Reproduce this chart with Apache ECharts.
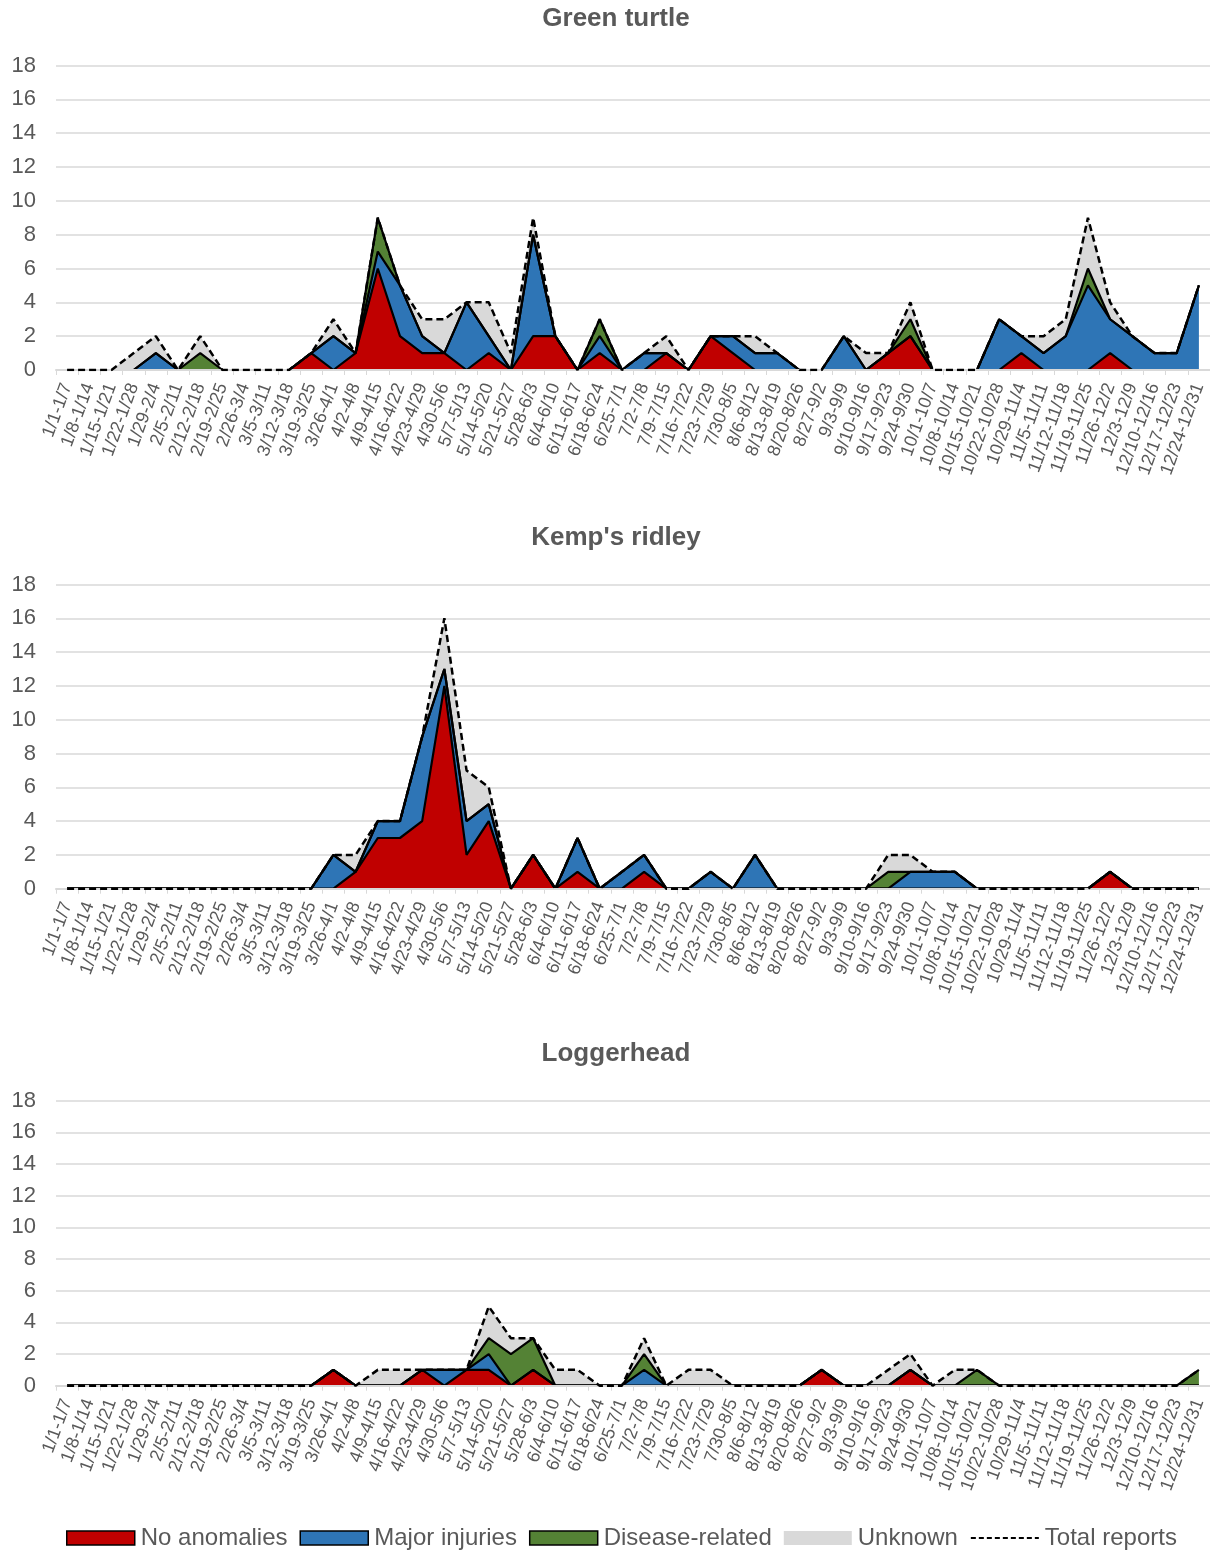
<!DOCTYPE html>
<html><head><meta charset="utf-8">
<script src="https://cdn.jsdelivr.net/npm/echarts@6/dist/echarts.min.js"></script>
<style>html,body{margin:0;padding:0;background:#fff}#c{width:1210px;height:1550px}</style>
</head><body><div id="c"></div>
<script>
const weeks = ['1/1-1/7','1/8-1/14','1/15-1/21','1/22-1/28','1/29-2/4','2/5-2/11','2/12-2/18','2/19-2/25','2/26-3/4','3/5-3/11','3/12-3/18','3/19-3/25','3/26-4/1','4/2-4/8','4/9-4/15','4/16-4/22','4/23-4/29','4/30-5/6','5/7-5/13','5/14-5/20','5/21-5/27','5/28-6/3','6/4-6/10','6/11-6/17','6/18-6/24','6/25-7/1','7/2-7/8','7/9-7/15','7/16-7/22','7/23-7/29','7/30-8/5','8/6-8/12','8/13-8/19','8/20-8/26','8/27-9/2','9/3-9/9','9/10-9/16','9/17-9/23','9/24-9/30','10/1-10/7','10/8-10/14','10/15-10/21','10/22-10/28','10/29-11/4','11/5-11/11','11/12-11/18','11/19-11/25','11/26-12/2','12/3-12/9','12/10-12/16','12/17-12/23','12/24-12/31'];
const seriesNames = ['No anomalies','Major injuries','Disease-related','Unknown','Total reports'];
const speciesTitles = ['Green turtle',"Kemp's ridley",'Loggerhead'];

// Green turtle
const greenNoAnomalies = [0,0,0,0,0,0,0,0,0,0,0,1,0,1,6,2,1,1,0,1,0,2,2,0,1,0,0,1,0,2,1,0,0,0,0,0,0,1,2,0,0,0,0,1,0,0,0,1,0,0,0,0];
const greenMajor       = [0,0,0,0,1,0,0,0,0,0,0,0,2,0,1,3,1,0,4,1,0,6,0,0,1,0,1,0,0,0,1,1,1,0,0,2,0,0,0,0,0,0,3,1,1,2,5,2,2,1,1,5];
const greenDisease     = [0,0,0,0,0,0,1,0,0,0,0,0,0,0,2,0,0,0,0,0,0,0,0,0,1,0,0,0,0,0,0,0,0,0,0,0,0,0,1,0,0,0,0,0,0,0,1,0,0,0,0,0];
const greenUnknown     = [0,0,0,1,1,0,1,0,0,0,0,0,1,0,0,0,1,2,0,2,1,1,0,0,0,0,0,1,0,0,0,1,0,0,0,0,1,0,1,0,0,0,0,0,1,1,3,1,0,0,0,0];
const greenTotal       = [0,0,0,1,2,0,2,0,0,0,0,1,3,1,9,5,3,3,4,4,1,9,2,0,3,0,1,2,0,2,2,2,1,0,0,2,1,1,4,0,0,0,3,2,2,3,9,4,2,1,1,5];

// Kemp's ridley
const kempNoAnomalies = [0,0,0,0,0,0,0,0,0,0,0,0,0,1,3,3,4,12,2,4,0,2,0,1,0,0,1,0,0,0,0,0,0,0,0,0,0,0,0,0,0,0,0,0,0,0,0,1,0,0,0,0];
const kempMajor       = [0,0,0,0,0,0,0,0,0,0,0,0,2,0,1,1,5,1,2,1,0,0,0,2,0,1,1,0,0,1,0,2,0,0,0,0,0,0,1,1,1,0,0,0,0,0,0,0,0,0,0,0];
const kempDisease     = [0,0,0,0,0,0,0,0,0,0,0,0,0,0,0,0,0,0,0,0,0,0,0,0,0,0,0,0,0,0,0,0,0,0,0,0,0,1,0,0,0,0,0,0,0,0,0,0,0,0,0,0];
const kempUnknown     = [0,0,0,0,0,0,0,0,0,0,0,0,0,1,0,0,0,3,3,1,0,0,0,0,0,0,0,0,0,0,0,0,0,0,0,0,0,1,1,0,0,0,0,0,0,0,0,0,0,0,0,0];
const kempTotal       = [0,0,0,0,0,0,0,0,0,0,0,0,2,2,4,4,9,16,7,6,0,2,0,3,0,1,2,0,0,1,0,2,0,0,0,0,0,2,2,1,1,0,0,0,0,0,0,1,0,0,0,0];

// Loggerhead
const loggerNoAnomalies = [0,0,0,0,0,0,0,0,0,0,0,0,1,0,0,0,1,0,1,1,0,1,0,0,0,0,0,0,0,0,0,0,0,0,1,0,0,0,1,0,0,0,0,0,0,0,0,0,0,0,0,0];
const loggerMajor       = [0,0,0,0,0,0,0,0,0,0,0,0,0,0,0,0,0,1,0,1,0,0,0,0,0,0,1,0,0,0,0,0,0,0,0,0,0,0,0,0,0,0,0,0,0,0,0,0,0,0,0,0];
const loggerDisease     = [0,0,0,0,0,0,0,0,0,0,0,0,0,0,0,0,0,0,0,1,2,2,0,0,0,0,1,0,0,0,0,0,0,0,0,0,0,0,0,0,0,1,0,0,0,0,0,0,0,0,0,1];
const loggerUnknown     = [0,0,0,0,0,0,0,0,0,0,0,0,0,0,1,1,0,0,0,2,1,0,1,1,0,0,1,0,1,1,0,0,0,0,0,0,0,1,1,0,1,0,0,0,0,0,0,0,0,0,0,0];
const loggerTotal       = [0,0,0,0,0,0,0,0,0,0,0,0,1,0,1,1,1,1,1,5,3,3,1,1,0,0,3,0,1,1,0,0,0,0,1,0,0,1,2,0,1,1,0,0,0,0,0,0,0,0,0,1];

const yMin = 0, yMax = 18, yStep = 2;

const panels = [
  {title: speciesTitles[0], data: [greenNoAnomalies, greenMajor, greenDisease, greenUnknown, greenTotal]},
  {title: speciesTitles[1], data: [kempNoAnomalies, kempMajor, kempDisease, kempUnknown, kempTotal]},
  {title: speciesTitles[2], data: [loggerNoAnomalies, loggerMajor, loggerDisease, loggerUnknown, loggerTotal]}
];

const FONT = "'Liberation Sans', Arial, sans-serif";
const TXT = '#595959';
const colors = ['#C00000', '#2E75B6', '#548235', '#D9D9D9'];
const grids = [
  {left: 56, width: 1154, top: 65.5, height: 304.5},
  {left: 56, width: 1154, top: 584.5, height: 304.2},
  {left: 56, width: 1154, top: 1100.7, height: 285}
];
const titleTops = [1, 520, 1036];

const option = {
  animation: false,
  backgroundColor: '#fff',
  textStyle: {fontFamily: FONT},
  title: panels.map((p, k) => ({
    text: p.title, left: 611, textAlign: 'center', top: titleTops[k],
    textStyle: {fontFamily: FONT, fontSize: 26, fontWeight: 'bold', color: TXT}
  })),
  grid: grids,
  xAxis: grids.map((g, k) => ({
    type: 'category', gridIndex: k, data: weeks, boundaryGap: true, z: 4,
    axisLine: {show: true, lineStyle: {color: '#D9D9D9', width: 2}},
    axisTick: {show: true, interval: 0, length: 5, lineStyle: {color: '#D9D9D9', width: 1}},
    axisLabel: {interval: 0, rotate: 70, margin: 14, fontSize: 18, color: TXT, fontFamily: FONT},
    splitLine: {show: false}
  })),
  yAxis: grids.map((g, k) => ({
    type: 'value', gridIndex: k, min: yMin, max: yMax, interval: yStep,
    axisLine: {show: false}, axisTick: {show: false},
    axisLabel: {fontSize: 22, color: TXT, margin: 20, fontFamily: FONT},
    splitLine: {lineStyle: {color: '#D9D9D9', width: 1.5}}
  })),
  legend: {
    left: 66, top: 1526, padding: 0, itemWidth: 68, itemHeight: 14, itemGap: 12,
    textStyle: {fontSize: 24, color: TXT, fontFamily: FONT, padding: [0, 0, 0, 1]},
    data: [
      {name: seriesNames[0], icon: 'rect', itemStyle: {color: colors[0], borderColor: '#000', borderWidth: 1.5}},
      {name: seriesNames[1], icon: 'rect', itemStyle: {color: colors[1], borderColor: '#000', borderWidth: 1.5}},
      {name: seriesNames[2], icon: 'rect', itemStyle: {color: colors[2], borderColor: '#000', borderWidth: 1.5}},
      {name: seriesNames[3], icon: 'rect', itemStyle: {color: colors[3], borderWidth: 0}},
      {name: seriesNames[4], itemStyle: {opacity: 0}, lineStyle: {color: '#000', width: 2, type: [5, 3]}}
    ]
  },
  series: []
};

panels.forEach((p, k) => {
  for (let s = 0; s < 4; s++) {
    option.series.push({
      name: seriesNames[s], type: 'line', xAxisIndex: k, yAxisIndex: k,
      stack: 'area' + k, data: p.data[s], symbol: 'none', z: 2,
      itemStyle: {color: colors[s]},
      lineStyle: {width: 0, color: colors[s]},
      areaStyle: {color: colors[s], opacity: 1}
    });
  }
  for (let s = 0; s < 3; s++) {
    option.series.push({
      name: '_outline' + s, type: 'line', xAxisIndex: k, yAxisIndex: k,
      stack: 'outline' + k, data: p.data[s], symbol: 'none', z: 3,
      lineStyle: {width: 2.2, color: '#000'}, silent: true
    });
  }
  option.series.push({
    name: seriesNames[4], type: 'line', xAxisIndex: k, yAxisIndex: k,
    data: p.data[4], symbol: 'none', z: 5,
    itemStyle: {color: '#000'},
    lineStyle: {width: 2.5, color: '#000', type: [7, 4]}
  });
});

const chart = echarts.init(document.getElementById('c'), null, {renderer: 'canvas'});
chart.setOption(option);
</script>
</body></html>
